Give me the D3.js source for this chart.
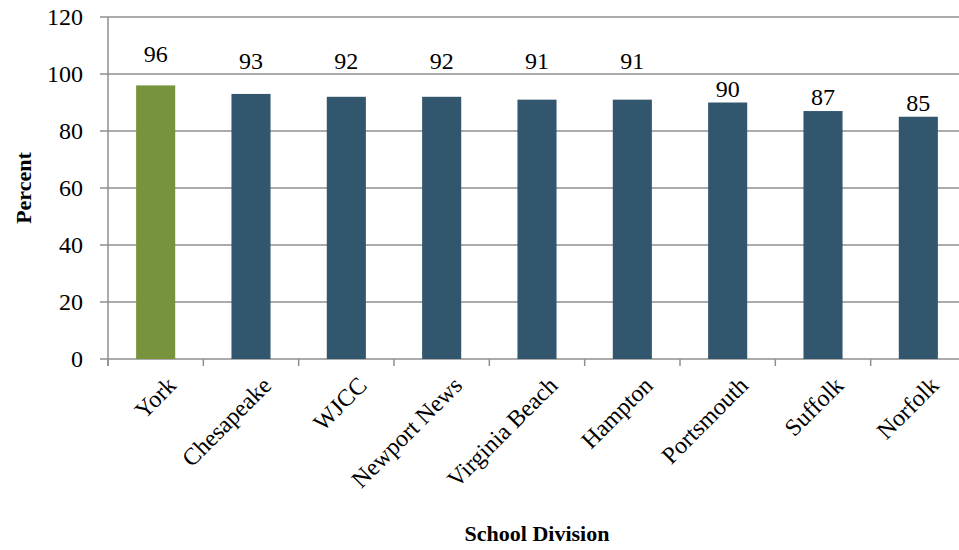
<!DOCTYPE html>
<html><head><meta charset="utf-8">
<script src="https://cdn.jsdelivr.net/npm/d3@7"></script>
<style>body{margin:0;background:#fff}svg{display:block}</style>
</head><body><svg id="c" width="959" height="550"></svg>
<script>
const categories = ["York","Chesapeake","WJCC","Newport News","Virginia Beach","Hampton","Portsmouth","Suffolk","Norfolk"];
const values = [96,93,92,92,91,91,90,87,85];
const highlight = ["York"];
const yTicks = [0,20,40,60,80,100,120];

const svg = d3.select("#c");
const m = {left:108, right:966, top:17, bottom:359};
const x = d3.scaleBand().domain(categories).range([m.left, m.right]).paddingInner(0.59).paddingOuter(0.295);
const y = d3.scaleLinear().domain([0,120]).range([m.bottom, m.top]);
const FONT = "24px 'Times New Roman', Times, serif";
const BFONT = "bold 22px 'Times New Roman', Times, serif";

// gridlines
svg.append("g").selectAll("line").data(yTicks).join("line")
  .attr("x1", m.left-8).attr("x2", 959).attr("y1", d=>y(d)).attr("y2", d=>y(d))
  .attr("stroke", "#8f8f8f").attr("stroke-width", 1.5);
// y axis line
svg.append("line").attr("x1", m.left).attr("x2", m.left).attr("y1", m.top).attr("y2", m.bottom+7)
  .attr("stroke", "#8f8f8f").attr("stroke-width", 1.5);
// x ticks at boundaries
const step = x.step();
const bounds = d3.range(categories.length+1).map(i => m.left + i*step);
svg.append("g").selectAll("line").data(bounds).join("line")
  .attr("x1", d=>d).attr("x2", d=>d).attr("y1", m.bottom).attr("y2", m.bottom+7)
  .attr("stroke", "#8f8f8f").attr("stroke-width", 1.5);

// y tick labels
svg.append("g").selectAll("text").data(yTicks).join("text")
  .attr("x", m.left-25).attr("y", d=>y(d)+8)
  .attr("text-anchor", "end").style("font", FONT).text(d=>d);

// bars
const data = categories.map((c,i)=>({c, v: values[i]}));
svg.append("g").selectAll("rect").data(data).join("rect")
  .attr("x", d=>x(d.c)).attr("width", x.bandwidth())
  .attr("y", d=>y(d.v)).attr("height", d=>y(0)-y(d.v))
  .attr("fill", d=> highlight.includes(d.c) ? "#77933c" : "#33566f");

// value labels
function labelY(v){
  if (v > 95) return y(104.2);
  if (v > 90) return y(101.7);
  return y(v) - 6;
}
svg.append("g").selectAll("text").data(data).join("text")
  .attr("x", d=>x(d.c)+x.bandwidth()/2).attr("y", d=>labelY(d.v))
  .attr("text-anchor", "middle").style("font", FONT).text(d=>d.v);

// category labels
svg.append("g").selectAll("text").data(data).join("text")
  .attr("transform", d=>`translate(${x(d.c)+x.bandwidth()/2+10},${m.bottom+16}) rotate(-45)`)
  .attr("text-anchor", "end").attr("dy", "0.7em").style("font", FONT).text(d=>d.c);

// axis titles
svg.append("text").attr("transform", `translate(31,188) rotate(-90)`)
  .attr("text-anchor", "middle").style("font", BFONT).text("Percent");
svg.append("text").attr("x", 537).attr("y", 541)
  .attr("text-anchor", "middle").style("font", BFONT).text("School Division");
</script></body></html>
